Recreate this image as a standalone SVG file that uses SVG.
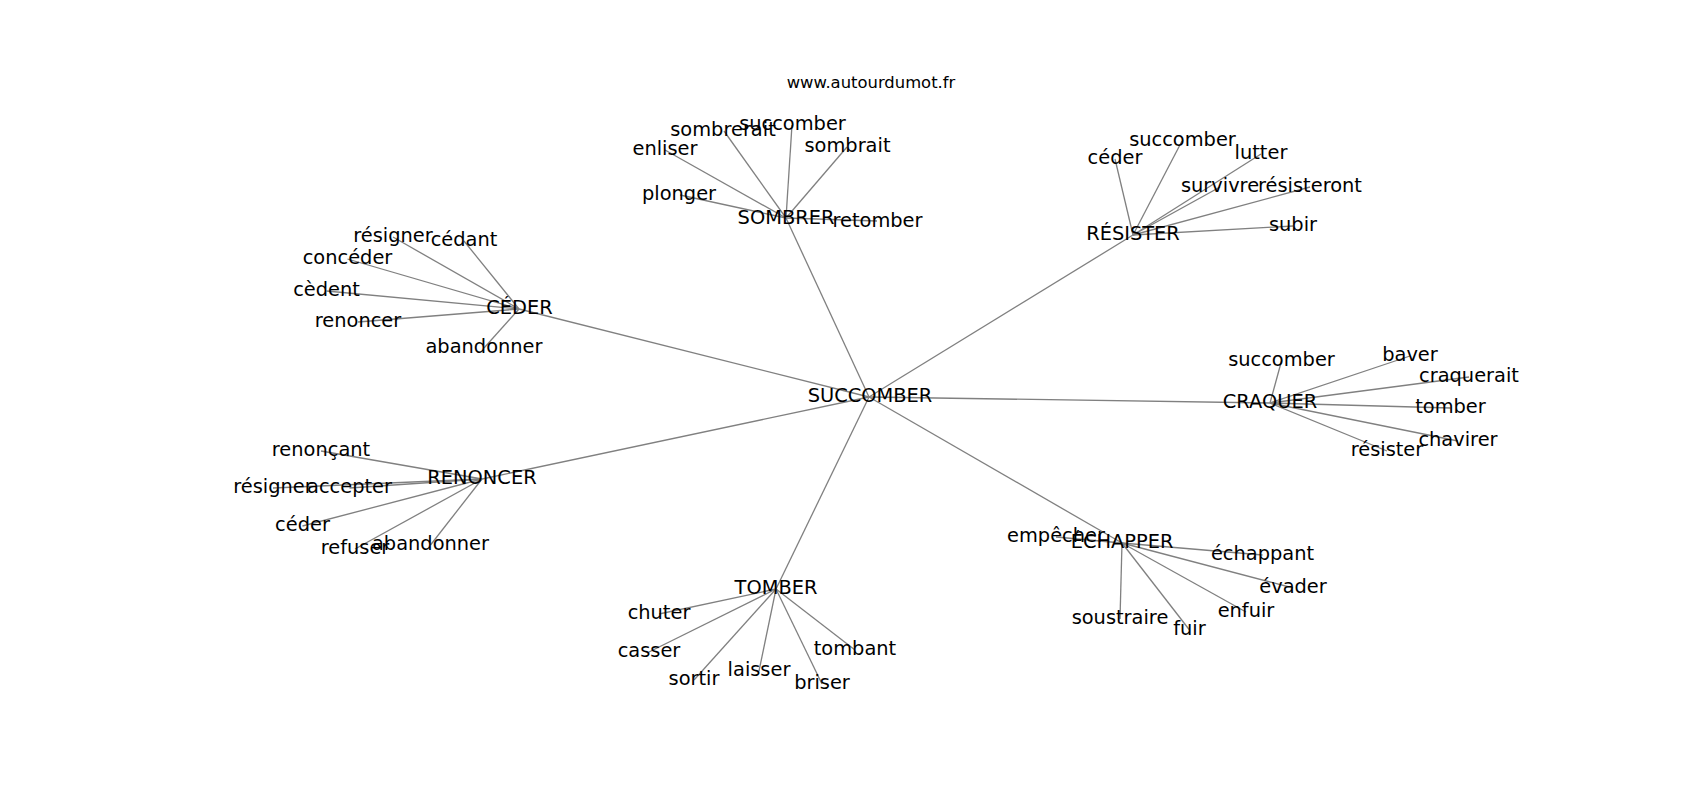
<svg xmlns="http://www.w3.org/2000/svg" width="1700" height="800" viewBox="0 0 1700 800">
<style>
.e{stroke:#808080;stroke-width:1.3;fill:none}
.n{font-family:"DejaVu Sans",sans-serif;font-size:19.4px;fill:#000;text-anchor:middle}
.t{font-family:"DejaVu Sans",sans-serif;font-size:16.4px;fill:#000;text-anchor:middle}
</style>
<rect width="1700" height="800" fill="#fff"/>
<text class="t" x="871" y="88">www.autourdumot.fr</text>
<g id="edges">
<line class="e" x1="869" y1="397" x2="786" y2="218"/>
<line class="e" x1="869" y1="397" x2="1133" y2="235"/>
<line class="e" x1="869" y1="397" x2="519" y2="309"/>
<line class="e" x1="869" y1="397" x2="1270" y2="403"/>
<line class="e" x1="869" y1="397" x2="482" y2="479"/>
<line class="e" x1="869" y1="397" x2="776" y2="589"/>
<line class="e" x1="869" y1="397" x2="1122" y2="543"/>
<line class="e" x1="786" y1="218" x2="877" y2="221"/>
<line class="e" x1="786" y1="218" x2="680" y2="195"/>
<line class="e" x1="786" y1="218" x2="665" y2="150"/>
<line class="e" x1="786" y1="218" x2="724" y2="131"/>
<line class="e" x1="786" y1="218" x2="792" y2="125"/>
<line class="e" x1="786" y1="218" x2="847" y2="147"/>
<line class="e" x1="1133" y1="235" x2="1115" y2="159"/>
<line class="e" x1="1133" y1="235" x2="1182" y2="141"/>
<line class="e" x1="1133" y1="235" x2="1261" y2="154"/>
<line class="e" x1="1133" y1="235" x2="1220" y2="187"/>
<line class="e" x1="1133" y1="235" x2="1310" y2="187"/>
<line class="e" x1="1133" y1="235" x2="1293" y2="226"/>
<line class="e" x1="519" y1="309" x2="393" y2="237"/>
<line class="e" x1="519" y1="309" x2="464" y2="241"/>
<line class="e" x1="519" y1="309" x2="347.5" y2="259"/>
<line class="e" x1="519" y1="309" x2="326.5" y2="291"/>
<line class="e" x1="519" y1="309" x2="358" y2="322"/>
<line class="e" x1="519" y1="309" x2="484" y2="348"/>
<line class="e" x1="1270" y1="403" x2="1281.5" y2="361"/>
<line class="e" x1="1270" y1="403" x2="1410" y2="356"/>
<line class="e" x1="1270" y1="403" x2="1469" y2="377"/>
<line class="e" x1="1270" y1="403" x2="1450.5" y2="408"/>
<line class="e" x1="1270" y1="403" x2="1458" y2="441"/>
<line class="e" x1="1270" y1="403" x2="1387" y2="451"/>
<line class="e" x1="482" y1="479" x2="321" y2="451"/>
<line class="e" x1="482" y1="479" x2="273" y2="488"/>
<line class="e" x1="482" y1="479" x2="349.5" y2="488"/>
<line class="e" x1="482" y1="479" x2="302.5" y2="526"/>
<line class="e" x1="482" y1="479" x2="355" y2="549"/>
<line class="e" x1="482" y1="479" x2="430.5" y2="545"/>
<line class="e" x1="776" y1="589" x2="659" y2="614"/>
<line class="e" x1="776" y1="589" x2="649" y2="652"/>
<line class="e" x1="776" y1="589" x2="694" y2="680"/>
<line class="e" x1="776" y1="589" x2="759" y2="671"/>
<line class="e" x1="776" y1="589" x2="822" y2="684"/>
<line class="e" x1="776" y1="589" x2="855" y2="650"/>
<line class="e" x1="1122" y1="543" x2="1056" y2="537"/>
<line class="e" x1="1122" y1="543" x2="1262.5" y2="555"/>
<line class="e" x1="1122" y1="543" x2="1293" y2="588"/>
<line class="e" x1="1122" y1="543" x2="1246" y2="612"/>
<line class="e" x1="1122" y1="543" x2="1120" y2="619"/>
<line class="e" x1="1122" y1="543" x2="1189.5" y2="630"/>
</g>
<g id="n-succomber"><text class="n" x="870" y="402">SUCCOMBER</text></g>
<g id="n-sombrer"><text class="n" x="786" y="224">SOMBRER</text></g>
<g id="n-sombrer-retomber"><text class="n" x="877.5" y="227">retomber</text></g>
<g id="n-sombrer-plonger"><text class="n" x="679" y="200">plonger</text></g>
<g id="n-sombrer-enliser"><text class="n" x="665" y="155">enliser</text></g>
<g id="n-sombrer-sombrerait"><text class="n" x="723" y="136">sombrerait</text></g>
<g id="n-sombrer-succomber"><text class="n" x="792.5" y="130">succomber</text></g>
<g id="n-sombrer-sombrait"><text class="n" x="847.5" y="152">sombrait</text></g>
<g id="n-resister"><text class="n" x="1133" y="240">RÉSISTER</text></g>
<g id="n-resister-ceder"><text class="n" x="1115" y="164">céder</text></g>
<g id="n-resister-succomber"><text class="n" x="1182.5" y="146">succomber</text></g>
<g id="n-resister-lutter"><text class="n" x="1261" y="159">lutter</text></g>
<g id="n-resister-survivre"><text class="n" x="1220" y="192">survivre</text></g>
<g id="n-resister-resisteront"><text class="n" x="1310" y="192">résisteront</text></g>
<g id="n-resister-subir"><text class="n" x="1293" y="231">subir</text></g>
<g id="n-ceder"><text class="n" x="519.5" y="314">CÉDER</text></g>
<g id="n-ceder-resigner"><text class="n" x="393" y="242">résigner</text></g>
<g id="n-ceder-cedant"><text class="n" x="464" y="246">cédant</text></g>
<g id="n-ceder-conceder"><text class="n" x="347.5" y="264">concéder</text></g>
<g id="n-ceder-cedent"><text class="n" x="326.5" y="296">cèdent</text></g>
<g id="n-ceder-renoncer"><text class="n" x="358" y="327">renoncer</text></g>
<g id="n-ceder-abandonner"><text class="n" x="484" y="353">abandonner</text></g>
<g id="n-craquer"><text class="n" x="1270" y="408">CRAQUER</text></g>
<g id="n-craquer-succomber"><text class="n" x="1281.5" y="366">succomber</text></g>
<g id="n-craquer-baver"><text class="n" x="1410" y="361">baver</text></g>
<g id="n-craquer-craquerait"><text class="n" x="1469" y="382">craquerait</text></g>
<g id="n-craquer-tomber"><text class="n" x="1450.5" y="413">tomber</text></g>
<g id="n-craquer-chavirer"><text class="n" x="1458" y="446">chavirer</text></g>
<g id="n-craquer-resister"><text class="n" x="1387" y="456">résister</text></g>
<g id="n-renoncer"><text class="n" x="482" y="484">RENONCER</text></g>
<g id="n-renoncer-renoncant"><text class="n" x="321" y="456">renonçant</text></g>
<g id="n-renoncer-resigner"><text class="n" x="273" y="493">résigner</text></g>
<g id="n-renoncer-accepter"><text class="n" x="349.5" y="493">accepter</text></g>
<g id="n-renoncer-ceder"><text class="n" x="302.5" y="531">céder</text></g>
<g id="n-renoncer-refuser"><text class="n" x="355" y="554">refuser</text></g>
<g id="n-renoncer-abandonner"><text class="n" x="430.5" y="550">abandonner</text></g>
<g id="n-tomber"><text class="n" x="776" y="594">TOMBER</text></g>
<g id="n-tomber-chuter"><text class="n" x="659" y="619">chuter</text></g>
<g id="n-tomber-casser"><text class="n" x="649" y="657">casser</text></g>
<g id="n-tomber-sortir"><text class="n" x="694" y="685">sortir</text></g>
<g id="n-tomber-laisser"><text class="n" x="759" y="676">laisser</text></g>
<g id="n-tomber-briser"><text class="n" x="822" y="689">briser</text></g>
<g id="n-tomber-tombant"><text class="n" x="855" y="655">tombant</text></g>
<g id="n-echapper"><text class="n" x="1122" y="548">ÉCHAPPER</text></g>
<g id="n-echapper-empecher"><text class="n" x="1056" y="542">empêcher</text></g>
<g id="n-echapper-echappant"><text class="n" x="1262.5" y="560">échappant</text></g>
<g id="n-echapper-evader"><text class="n" x="1293" y="593">évader</text></g>
<g id="n-echapper-enfuir"><text class="n" x="1246" y="617">enfuir</text></g>
<g id="n-echapper-soustraire"><text class="n" x="1120" y="624">soustraire</text></g>
<g id="n-echapper-fuir"><text class="n" x="1189.5" y="635">fuir</text></g>
</svg>
